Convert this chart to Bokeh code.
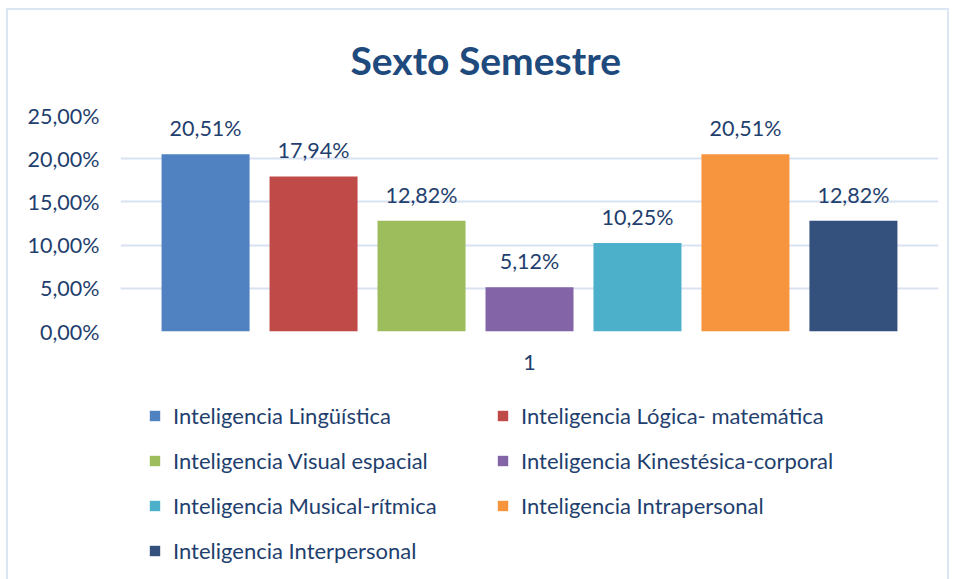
from bokeh.plotting import figure
from bokeh.models import FactorRange, FixedTicker, Legend, LegendItem, ColumnDataSource, InlineStyleSheet
from bokeh.layouts import column
from bokeh.transform import dodge
from bokeh.core.properties import value
from bokeh.embed import file_html
from bokeh.resources import INLINE

title = "Sexto Semestre"
category = ["1"]
series = [
    "Inteligencia Lingüística",
    "Inteligencia Lógica- matemática",
    "Inteligencia Visual espacial",
    "Inteligencia Kinestésica-corporal",
    "Inteligencia Musical-rítmica",
    "Inteligencia Intrapersonal",
    "Inteligencia Interpersonal",
]
values = [20.51, 17.94, 12.82, 5.12, 10.25, 20.51, 12.82]
colors = ["#5081c0", "#c04a48", "#9dbd5c", "#8364a6", "#4cb0cb", "#f7953f", "#34507c"]
y_ticks = [0, 5, 10, 15, 20, 25]
y_tick_labels = ["0,00%", "5,00%", "10,00%", "15,00%", "20,00%", "25,00%"]

FONT = "Lato"
TXT = "#1f3f6e"
W = 954

p = figure(width=W, height=390, x_range=FactorRange(*category), y_range=(0, 25),
           output_backend="svg", toolbar_location=None, tools="")
p.min_border_left = 120
p.min_border_right = 16
p.min_border_top = 115
p.min_border_bottom = 59
p.outline_line_color = None

p.title.text = title
p.title.text_font = FONT
p.title.text_font_size = "39px"
p.title.text_font_style = "bold"
p.title.text_color = "#1f4a7d"
p.title.align = "left"
p.title.offset = 230
p.title.standoff = 66

step = 0.132
width = 0.1076
items = []
sources = []
for i, (name, v, c) in enumerate(zip(series, values, colors)):
    off = (i - (len(values) - 1) / 2) * step
    src = ColumnDataSource(dict(x=category, top=[v], lab=[f"{v:.2f}%".replace(".", ",")]))
    sources.append(src)
    p.vbar(x=dodge("x", off, range=p.x_range), top="top", width=width, bottom=0,
           source=src, fill_color=c, line_color=None)
    p.text(x=dodge("x", off, range=p.x_range), y="top", text="lab", source=src,
           text_align="center", text_baseline="bottom", y_offset=-13,
           text_font=value(FONT), text_font_size="21.5px", text_color=TXT)

p.yaxis.ticker = FixedTicker(ticks=y_ticks)
p.yaxis.major_label_overrides = {t: l for t, l in zip(y_ticks, y_tick_labels)}
for ax in (p.xaxis, p.yaxis):
    ax.axis_line_color = None
    ax.major_tick_line_color = None
    ax.minor_tick_line_color = None
    ax.major_label_text_font = FONT
    ax.major_label_text_font_size = "21.5px"
    ax.major_label_text_color = TXT
p.yaxis.major_label_standoff = 15
p.xaxis.major_label_standoff = 17
p.xgrid.grid_line_color = None
p.ygrid.grid_line_color = "#d9e2f1"
p.ygrid.grid_line_width = 2

# legend panel (separate figure below the chart); its swatches come from
# bars drawn outside that figure's visible range
pl = figure(width=W, height=579 - 390, x_range=FactorRange(*category), y_range=(100, 200),
            output_backend="svg", toolbar_location=None, tools="",
            x_axis_type=None, y_axis_type=None)
pl.min_border = 0
pl.outline_line_color = None
pl.grid.grid_line_color = None
for i, (name, c, src) in enumerate(zip(series, colors, sources)):
    r = pl.vbar(x="x", top="top", width=0.1, bottom=0, source=src,
                fill_color=c, line_color=None)
    items.append(LegendItem(label=name, renderers=[r]))

# column-major legend: reorder so visual rows match the reference
legend_items = items[0::2] + items[1::2]
legend = Legend(items=legend_items, orientation="vertical", nrows=4, location=(28, 15))
legend.label_text_font = FONT
legend.label_text_font_size = "22px"
legend.label_text_color = TXT
legend.glyph_width = 13
legend.glyph_height = 13
legend.label_standoff = 12
legend.label_height = 22
legend.label_width = 305
legend.spacing = 18
legend.padding = 0
legend.margin = 0
legend.border_line_color = None
legend.background_fill_alpha = 0
pl.add_layout(legend, "center")

frame_css = InlineStyleSheet(css="""
:host { position: relative; }
:host::after {
  content: ""; position: absolute; left: 6px; top: 8px;
  width: 939px; height: 571px;
  border: 2px solid #dce5f2; border-bottom: none;
  pointer-events: none;
}
""")
layout = column(p, pl, spacing=0, stylesheets=[frame_css])
open("out.html", "w").write(file_html(layout, INLINE))
